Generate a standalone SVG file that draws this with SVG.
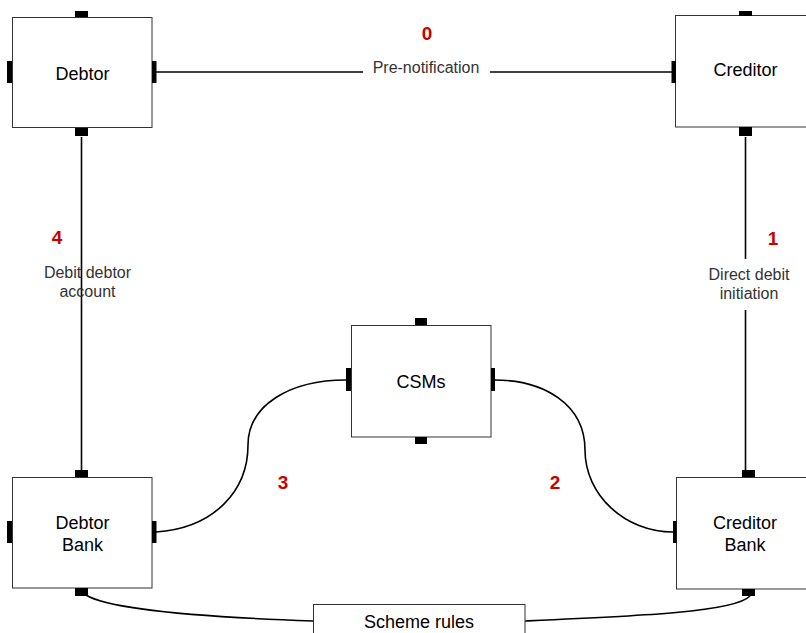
<svg xmlns="http://www.w3.org/2000/svg" width="806" height="633" viewBox="0 0 806 633">
  <style>
    .box { fill: #ffffff; stroke: #333333; stroke-width: 1; }
    .port { fill: #000000; }
    .name { font-family: "Liberation Sans", Arial, sans-serif; font-size: 18px; fill: #000000; text-anchor: middle; }
    .label { font-family: "Liberation Sans", Arial, sans-serif; font-size: 16px; fill: #333333; text-anchor: middle; }
    .step { font-family: "Liberation Sans", Arial, sans-serif; font-size: 19px; font-weight: bold; fill: #cc0000; text-anchor: middle; }
    .wire { fill: none; stroke: #000000; stroke-width: 1.6; }
  </style>
  <rect width="806" height="633" fill="#ffffff"/>

  <!-- connectors -->
  <g id="connectors">
    <!-- pre-notification: Debtor to Creditor -->
    <path class="wire" d="M156,72 H363"/>
    <path class="wire" d="M490,72 H672"/>
    <!-- debit debtor account: Debtor to Debtor Bank -->
    <path class="wire" d="M81.5,137 V470"/>
    <!-- direct debit initiation: Creditor to Creditor Bank -->
    <path class="wire" d="M745.5,137 V259"/>
    <path class="wire" d="M745.5,310 V470"/>
    <!-- Debtor Bank to CSMs -->
    <path class="wire" d="M156,532 C215,528 248,490 248,445 C248,405 290,380 346,380"/>
    <!-- CSMs to Creditor Bank -->
    <path class="wire" d="M494,380 C545,380 585,405 585,450 C585,495 625,532 673,532"/>
    <!-- banks to scheme rules -->
    <path class="wire" d="M86,595 C110,610 200,617 313,621"/>
    <path class="wire" d="M750,596 C735,612 640,616 525,621"/>
  </g>

  <!-- step labels -->
  <g id="labels">
    <text class="step" x="427" y="40">0</text>
    <text class="label" x="426" y="73">Pre-notification</text>
    <text class="step" x="773" y="245">1</text>
    <text class="label" x="749" y="280">Direct debit</text>
    <text class="label" x="749" y="299">initiation</text>
    <text class="step" x="57" y="244">4</text>
    <text class="label" x="87.5" y="278">Debit debtor</text>
    <text class="label" x="87.5" y="297">account</text>
    <text class="step" x="283" y="489">3</text>
    <text class="step" x="555" y="489">2</text>
  </g>

  <g id="debtor">
    <rect class="box" x="12.5" y="17.5" width="139.5" height="110"/>
    <rect class="port" x="75" y="11" width="13" height="6"/>
    <rect class="port" x="75" y="128" width="13" height="8"/>
    <rect class="port" x="7" y="61" width="5" height="22"/>
    <rect class="port" x="152" y="61" width="4.5" height="22"/>
    <text class="name" x="82.5" y="80">Debtor</text>
  </g>

  <g id="creditor">
    <rect class="box" x="675.5" y="15.5" width="140" height="111.5"/>
    <rect class="port" x="739" y="11" width="13" height="5"/>
    <rect class="port" x="739" y="127" width="13" height="9"/>
    <rect class="port" x="671.5" y="61" width="4.5" height="22"/>
    <text class="name" x="745.5" y="76">Creditor</text>
  </g>

  <g id="csms">
    <rect class="box" x="351.5" y="325.5" width="139.5" height="111.5"/>
    <rect class="port" x="415" y="318" width="12" height="7"/>
    <rect class="port" x="415" y="437" width="12" height="7"/>
    <rect class="port" x="346" y="368" width="5" height="23"/>
    <rect class="port" x="491" y="368" width="4" height="23"/>
    <text class="name" x="421" y="388">CSMs</text>
  </g>

  <g id="debtor-bank">
    <rect class="box" x="12.5" y="477.5" width="139.5" height="110.5"/>
    <rect class="port" x="75" y="470" width="13" height="7"/>
    <rect class="port" x="75" y="588" width="13" height="8"/>
    <rect class="port" x="7" y="521" width="5" height="22"/>
    <rect class="port" x="152" y="521" width="4.5" height="22"/>
    <text class="name" x="82.5" y="529">Debtor</text>
    <text class="name" x="82.5" y="551">Bank</text>
  </g>

  <g id="creditor-bank">
    <rect class="box" x="676.5" y="477.5" width="140" height="111.5"/>
    <rect class="port" x="742" y="470" width="13" height="7"/>
    <rect class="port" x="742" y="589" width="13" height="7"/>
    <rect class="port" x="673" y="521" width="3.5" height="22"/>
    <text class="name" x="745" y="529">Creditor</text>
    <text class="name" x="745" y="551">Bank</text>
  </g>

  <g id="scheme-rules">
    <rect class="box" x="313.5" y="604.5" width="211.5" height="40"/>
    <text class="name" x="419" y="628">Scheme rules</text>
  </g>
</svg>
